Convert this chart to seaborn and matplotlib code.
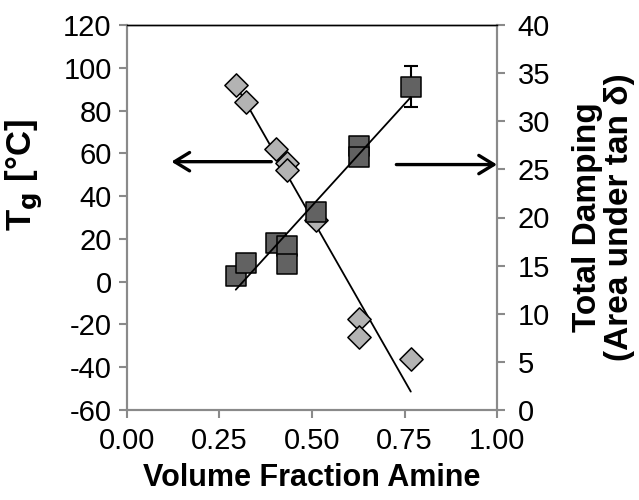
import matplotlib
matplotlib.use("Agg")
import matplotlib.pyplot as plt
import seaborn as sns
import pandas as pd

sns.set_theme(style="white")
plt.rcParams["font.family"] = ["Liberation Sans", "DejaVu Sans"]
plt.rcParams["axes.unicode_minus"] = False
plt.rcParams["text.color"] = "black"
plt.rcParams["axes.labelcolor"] = "black"

# Glass transition temperature vs. amine volume fraction (left axis)
tg_x = [0.294, 0.321, 0.402, 0.433, 0.433, 0.512, 0.626, 0.626, 0.767]
tg_val = [92.0, 84.2, 61.9, 55.3, 52.2, 28.8, -17.4, -26.0, -36.1]
tg_fit_x = [0.294, 0.767]
tg_fit = [92.0, -51.4]

# Total damping (area under tan delta) vs. amine volume fraction (right axis)
damp_x = [0.294, 0.321, 0.402, 0.433, 0.433, 0.512, 0.627, 0.627, 0.767]
damp_val = [13.9, 15.3, 17.3, 17.0, 15.2, 20.6, 27.4, 26.3, 33.6]
damp_err = [0, 0, 0, 0, 0, 0, 0, 0, 2.1]
damp_fit_x = [0.294, 0.767]
damp_fit = [12.5, 32.5]

x_ticks = [0.00, 0.25, 0.50, 0.75, 1.00]
tg_ticks = [-60, -40, -20, 0, 20, 40, 60, 80, 100, 120]
damp_ticks = [0, 5, 10, 15, 20, 25, 30, 35, 40]

tg_df = pd.DataFrame({"x": tg_x, "Tg": tg_val})
damp_df = pd.DataFrame({"x": damp_x, "damping": damp_val, "err": damp_err})

fig = plt.figure(figsize=(6.39, 5.0), dpi=100)
ax = fig.add_axes([0.1987, 0.18, 0.5791, 0.77])
ax2 = ax.twinx()

spine_gray = "#8a8a8a"

# Tg series: diamonds and trend line
sns.lineplot(x=tg_fit_x, y=tg_fit, ax=ax, color="black", lw=1.3,
             sort=False, estimator=None, zorder=2)
sns.scatterplot(data=tg_df, x="x", y="Tg", ax=ax, marker="D", s=140,
                color="#b3b3b3", edgecolor="black", linewidth=1.1, zorder=3)

# Damping series: squares with error bar and trend line
ax2.errorbar(damp_df["x"].iloc[-1:], damp_df["damping"].iloc[-1:],
             yerr=damp_df["err"].iloc[-1:], fmt="none", ecolor="black",
             elinewidth=1.5, capsize=5, capthick=1.5, zorder=2)
sns.lineplot(x=damp_fit_x, y=damp_fit, ax=ax2, color="black", lw=1.3,
             sort=False, estimator=None, zorder=4)
sns.scatterplot(data=damp_df, x="x", y="damping", ax=ax2, marker="s", s=200,
                color="#626262", edgecolor="black", linewidth=1.1, zorder=3)

# Axis limits and ticks
ax.set_xlim(0, 1)
ax.set_ylim(-60, 120)
ax2.set_ylim(0, 40)
ax.set_xticks(x_ticks)
ax.set_xticklabels([f"{v:.2f}" for v in x_ticks])
ax.set_yticks(tg_ticks)
ax2.set_yticks(damp_ticks)

for a in (ax, ax2):
    for side in ("left", "right", "bottom"):
        a.spines[side].set_color(spine_gray)
        a.spines[side].set_linewidth(1.5)
    a.spines["top"].set_color("black")
    a.spines["top"].set_linewidth(1.0)
    a.tick_params(length=6, width=1.5, color=spine_gray, labelsize=21,
                  labelcolor="black", pad=6)
ax.tick_params(axis="x", direction="out", bottom=True, pad=6)
ax.tick_params(axis="y", direction="out", left=True, pad=5)
ax2.tick_params(axis="y", direction="out", right=True, pad=9)
ax2.grid(False)
ax.grid(False)

# Direction arrows pointing to each series' axis
ax.annotate("", xy=(0.12, 56.1), xytext=(0.39, 56.1),
            arrowprops=dict(arrowstyle="->,head_length=0.9,head_width=0.55",
                            lw=2.4, color="black", shrinkA=0, shrinkB=0))
ax2.annotate("", xy=(1.0, 25.5), xytext=(0.728, 25.5),
             arrowprops=dict(arrowstyle="->,head_length=0.9,head_width=0.55",
                             lw=2.4, color="black", shrinkA=0, shrinkB=0))

# Axis titles
ax.set_xlabel("Volume Fraction Amine", fontsize=22, fontweight="bold", labelpad=6)
ax.set_ylabel(r"T$_\mathbf{g}$ [°C]", fontsize=25, fontweight="bold")
ax.yaxis.set_label_coords(-0.222, 0.61)
ax2.set_ylabel("Total Damping\n(Area under tan δ)", fontsize=24,
               fontweight="bold", rotation=90, linespacing=1.05)
ax2.yaxis.set_label_coords(1.203, 0.5)

fig.savefig("out.png", dpi=100)
